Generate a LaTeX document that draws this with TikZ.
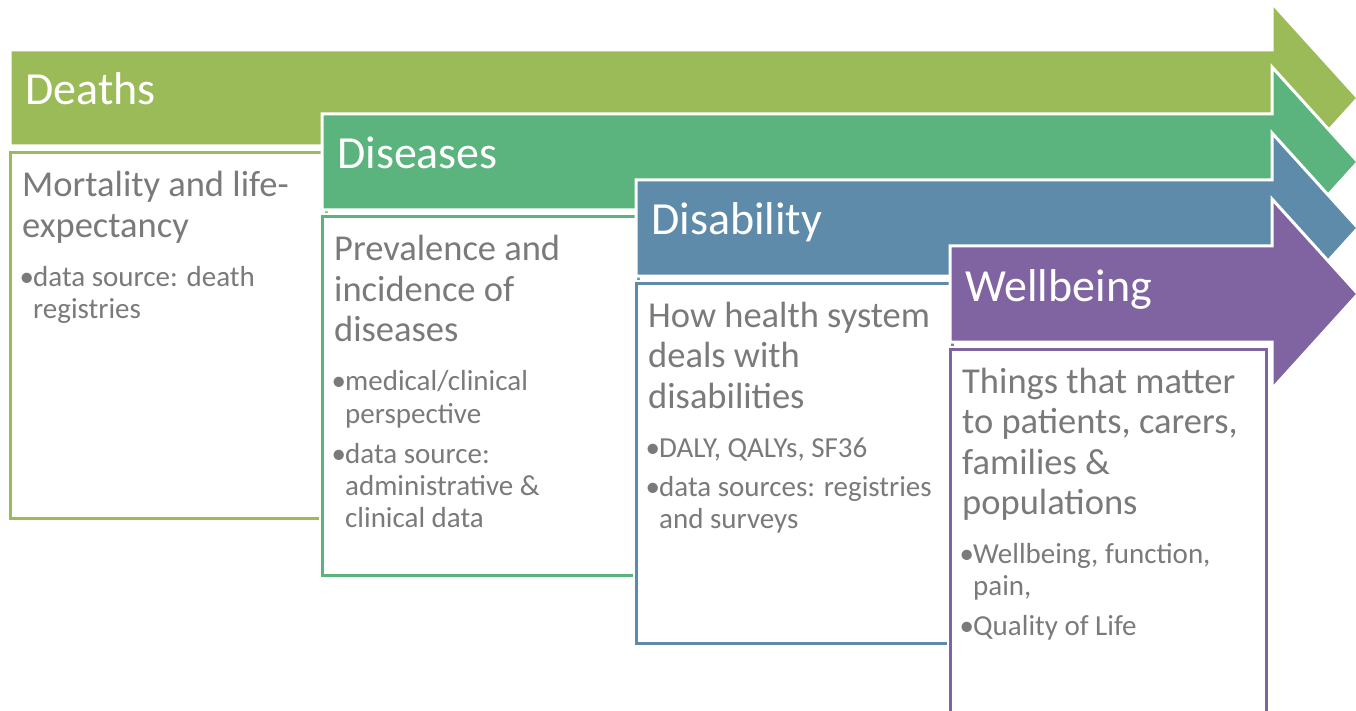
\documentclass[tikz,border=0pt]{standalone}
\usepackage{fontspec}
\setmainfont{Carlito}
\usepackage{xcolor}
\usepackage{tikz}
\usetikzlibrary{calc}
\definecolor{dthgreen}{HTML}{9BBB59}
\definecolor{disgreen}{HTML}{5BB37D}
\definecolor{dsbblue}{HTML}{5E8BAA}
\definecolor{wbpurple}{HTML}{8064A2}
\definecolor{txtgray}{HTML}{7A7A7A}
\newcommand\bitem[1]{\par\noindent\makebox[11pt][l]{\hspace{-2.5pt}\textbullet}\begin{tabular}[t]{@{}l@{}}#1\end{tabular}\par}
\newcommand\tsize{\spaceskip=0pt\xspaceskip=0pt}
\newcommand\bsize{\fontsize{29}{32}\selectfont\spaceskip=0pt\xspaceskip=0pt}
\tikzset{
    pics/stage/.style n args = {3}{
        code = {%
        \coordinate (-hd) at (15,55);
        \coordinate (-txt) at (12,147);
        \filldraw[fill=#1,draw=white,line width=3pt] (0,0) -- (#2,0) -- (#2,-47) -- (#2+86,48) -- (#2,143) -- (#2,96) -- (0,96) -- cycle;
        \draw[white,line width=7pt] (0,103) rectangle (316,#3);
        \draw[#1,line width=3pt,fill=white] (0,103) rectangle (316,#3);
        }
    },
    hdtext/.style = {anchor=base west, inner sep=0pt, text=white, font=\fontsize{46}{50}\selectfont},
    bodytext/.style = {anchor=base west, inner sep=0pt, text=txtgray, text width=400pt, align=left, font=\fontsize{36.5}{40.5}\selectfont},
}

\begin{document}
\begin{tikzpicture}[x=1pt,y=-1pt]
\useasboundingbox (0,0) rectangle (1356,711);
\clip (0,0) rectangle (1356,711);

\pic (Dth) at (10,50) {stage={dthgreen}{1262}{468}};
\node[hdtext] (DthHd) at (Dth-hd) {Deaths};
\node[bodytext] (DthTxt) at (Dth-txt) {\tsize Mortality and life-\\expectancy\par
  \vspace{17pt}\bsize
  \bitem{data source: death\\registries}};

\pic (Dis) at (322,114) {stage={disgreen}{950}{461}};
\node[hdtext] (DisHd) at (Dis-hd) {Diseases};
\node[bodytext] (DisTxt) at (Dis-txt) {\tsize Prevalence and\\incidence of\\diseases\par
  \vspace{17pt}\bsize
  \bitem{medical/clinical\\perspective}\vspace{7pt}
  \bitem{data source:\\administrative \&\\clinical data}};

\pic (Dsb) at (636,180) {stage={dsbblue}{636}{463}};
\node[hdtext] (DsbHd) at (Dsb-hd) {Disability};
\node[bodytext] (DsbTxt) at (Dsb-txt) {\tsize How health system\\deals with\\disabilities\par
  \vspace{17pt}\bsize
  \bitem{DALY, QALYs, SF36}\vspace{7pt}
  \bitem{data sources: registries\\and surveys}};

\pic (Wb) at (950,246) {stage={wbpurple}{322}{480}};
\node[hdtext] (WbHd) at (Wb-hd) {Wellbeing};
\node[bodytext] (WbTxt) at (Wb-txt) {\tsize Things that matter\\to patients, carers,\\families \&\\populations\par
  \vspace{17pt}\bsize
  \bitem{Wellbeing, function,\\pain,}\vspace{7pt}
  \bitem{Quality of Life}};
\end{tikzpicture}
\end{document}
